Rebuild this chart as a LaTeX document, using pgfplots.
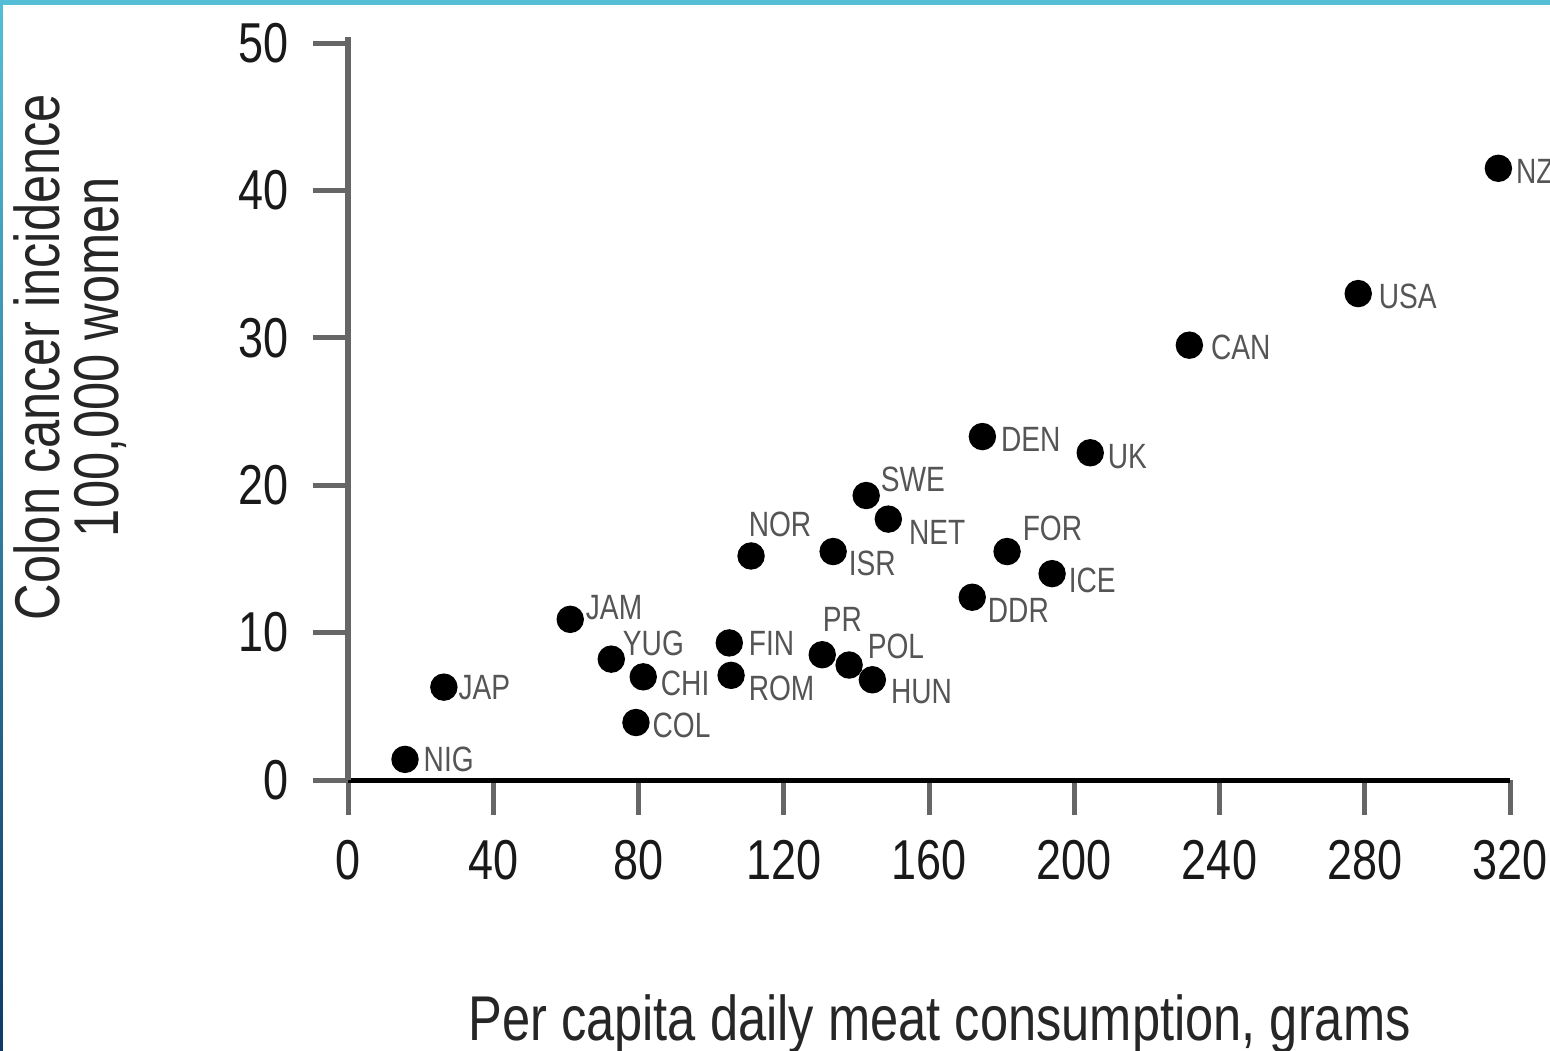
\documentclass[border=0pt]{standalone}
\usepackage{pgfplots}
\pgfplotsset{compat=1.18}
\usepackage{pgfplotstable}
\usepackage{fontspec}
\setmainfont{Liberation Sans}
\newfontfamily\cond[FakeStretch=0.8]{Liberation Sans}
\definecolor{framecyan}{HTML}{54BED6}
\definecolor{framenavy}{HTML}{0D3B66}
\definecolor{axgray}{HTML}{666666}
\definecolor{labgray}{HTML}{555555}

\pgfplotstableread{
x y lab dx dy
15.7 1.4 NIG 18 0
26.4 6.3 JAP 14 0
61.2 10.9 JAM 15 12
72.5 8.2 YUG 11 16
81.3 7.0 CHI 17 -7
79.3 3.9 COL 16 -3
105.0 9.3 FIN 19 0
105.5 7.1 ROM 17 -13
111.0 15.2 NOR -3 32
133.6 15.5 ISR 15 -12
142.7 19.3 SWE 14 16
148.8 17.7 NET 20 -13
130.6 8.5 PR 0 35
138.0 7.8 POL 18 19
144.4 6.8 HUN 18 -12
174.7 23.3 DEN 18 -3
204.4 22.2 UK 17 -4
181.5 15.5 FOR 15 23
193.9 14.0 ICE 16 -7
171.9 12.4 DDR 15 -13
231.7 29.5 CAN 21 -2
278.2 33.0 USA 20 -3
316.8 41.5 NZ 17 -3
}\pts

\begin{document}
\begin{tikzpicture}
\path[use as bounding box] (0,0) rectangle (155mm,105mm);
\fill[white] (0,0) rectangle (155mm,105mm);
\begin{axis}[
  at={(34.8mm,27mm)}, anchor=south west,
  scale only axis, width=116.2mm, height=73.7mm,
  xmin=0, xmax=320, ymin=0, ymax=50,
  axis x line*=bottom, axis y line*=left,
  axis line style={-},
  x axis line style={black, line width=0.5mm},
  y axis line style={axgray, line width=0.65mm, shorten >=-0.6mm},
  xtick={0,40,...,320}, ytick={0,10,...,50},
  tick align=outside, major tick length=3.5mm,
  xtick style={axgray, line width=0.5mm},
  ytick style={axgray, line width=0.5mm},
  /pgf/number format/assume math mode=true,
  ticklabel style={font=\cond\fontsize{16}{16}\selectfont, text=black!90},
  xticklabel style={yshift=-1.3mm},
  yticklabel style={xshift=-1.2mm},
  clip=false,
  xlabel={Per capita daily meat consumption, grams},
  xlabel style={at={(axis description cs:0.509,-0.353)}, anchor=base,
    font=\cond\fontsize{18}{18}\selectfont, text=black!85},
  ylabel={Colon cancer incidence\\100,000 women},
  ylabel style={at={(axis description cs:-0.239,0.574)}, anchor=center, rotate=0,
    align=center, font=\cond\fontsize{18}{16.8}\selectfont, text=black!85},
]
\addplot[only marks, mark=*, mark size=1.3mm, black,
  point meta=explicit symbolic,
  visualization depends on={\thisrow{dx}\as\mydx},
  visualization depends on={\thisrow{dy}\as\mydy},
  nodes near coords,
  every node near coord/.append style={anchor=west, inner sep=0pt,
    xshift=\mydx*0.1mm, yshift=\mydy*0.1mm,
    font=\cond\fontsize{10}{10}\selectfont, text=labgray},
] table[x=x, y=y, meta=lab] {\pts};
\end{axis}
\fill[framecyan] (0,104.5mm) rectangle (155mm,105mm);
\shade[top color=framecyan, bottom color=framenavy] (0,0) rectangle (0.3mm,104.5mm);
\end{tikzpicture}
\end{document}
